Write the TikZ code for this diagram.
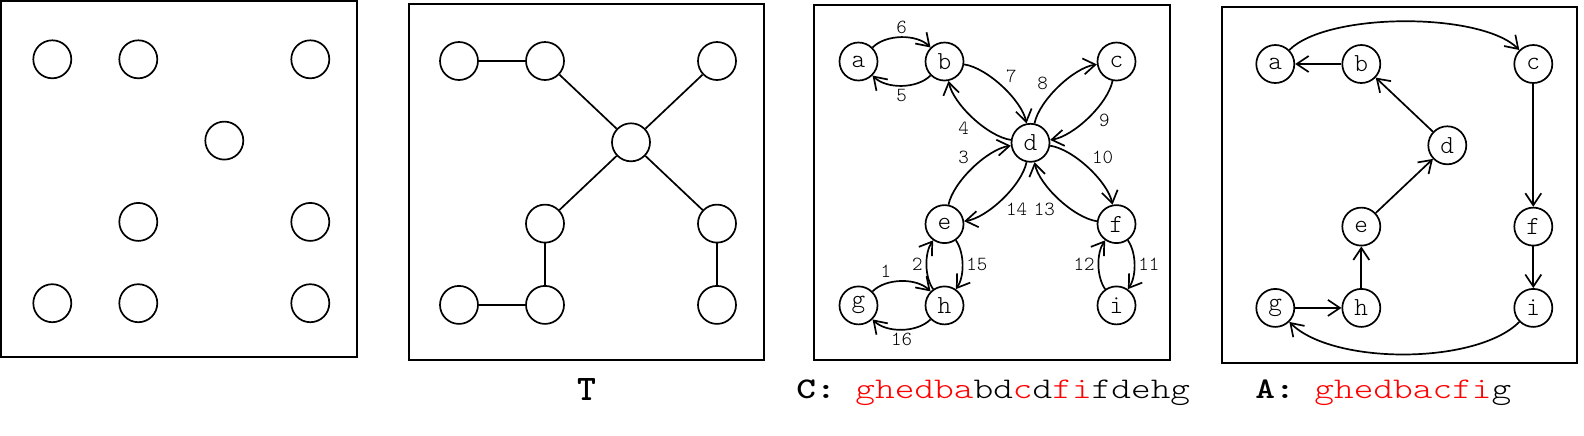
\documentclass[tikz,border=0pt]{standalone}
\usepackage{fontspec}
\newfontfamily\capfont{lmmonolt10-regular}[Extension=.otf, BoldFont=lmmonolt10-bold, FakeStretch=1.25]
\newfontfamily\titlefont{lmmonolt10-bold}[Extension=.otf]
\newfontfamily\lblfont{lmmonolt10-regular}[Extension=.otf]
\usetikzlibrary{arrows.meta}

\begin{document}
\begin{tikzpicture}[x=0.5pt, y=-0.5pt, >={Straight Barb[length=6pt,width=8pt]},
	vtx/.style={draw, circle, line width=0.85pt, minimum size=19pt, inner sep=0pt, font=\lblfont\fontsize{13}{13}\selectfont},
	tedge/.style={line width=0.85pt},
	dedge/.style={line width=0.85pt, ->},
	hbend/.style={bend left=45, looseness=0.85},   % horizontal pairs
	vbend/.style={bend left=35, looseness=0.8},    % vertical pairs
	dbend/.style={bend left=35, looseness=0.7},    % diagonal pairs
	elab/.style={auto, inner sep=1.5pt, font=\lblfont\fontsize{10}{10}\selectfont},
	panel/.style={line width=1pt}]
	
	% page
	\useasboundingbox (0,0) rectangle (1584,435);
	
	% parameters
	\def\dx{86}      % column distance
	\def\dy{81.3}    % row distance
	
	% panel 1: vertices only
	\def\ox{52.3}\def\oy{59.3}
	\draw[panel] (1,1) rectangle (357,357);
	\node[vtx] (ga) at (\ox,\oy) {};
	\node[vtx] (gb) at (\ox+\dx,\oy) {};
	\node[vtx] (gc) at (\ox+3*\dx,\oy) {};
	\node[vtx] (gd) at (\ox+2*\dx,\oy+\dy) {};
	\node[vtx] (ge) at (\ox+\dx,\oy+2*\dy) {};
	\node[vtx] (gf) at (\ox+3*\dx,\oy+2*\dy) {};
	\node[vtx] (gg) at (\ox,\oy+3*\dy) {};
	\node[vtx] (gh) at (\ox+\dx,\oy+3*\dy) {};
	\node[vtx] (gi) at (\ox+3*\dx,\oy+3*\dy) {};
	
	% panel 2: the tree T
	\def\ox{459}\def\oy{61}
	\draw[panel] (409,4) rectangle (764,360);
	\node[vtx] (ta) at (\ox,\oy) {};
	\node[vtx] (tb) at (\ox+\dx,\oy) {};
	\node[vtx] (tc) at (\ox+3*\dx,\oy) {};
	\node[vtx] (td) at (\ox+2*\dx,\oy+\dy) {};
	\node[vtx] (te) at (\ox+\dx,\oy+2*\dy) {};
	\node[vtx] (tf) at (\ox+3*\dx,\oy+2*\dy) {};
	\node[vtx] (tg) at (\ox,\oy+3*\dy) {};
	\node[vtx] (th) at (\ox+\dx,\oy+3*\dy) {};
	\node[vtx] (ti) at (\ox+3*\dx,\oy+3*\dy) {};
	
	\draw[tedge] (ta) -- (tb);
	\draw[tedge] (tb) -- (td);
	\draw[tedge] (tc) -- (td);
	\draw[tedge] (td) -- (te);
	\draw[tedge] (td) -- (tf);
	\draw[tedge] (te) -- (th);
	\draw[tedge] (tg) -- (th);
	\draw[tedge] (tf) -- (ti);
	
	\node[anchor=base, font=\titlefont\fontsize{18}{18}\selectfont] (tcap) at (587,400) {T};
	
	% panel 3: the closed walk C
	\def\ox{858.5}\def\oy{61.5}
	\draw[panel] (814,5) rectangle (1170,360);
	\node[vtx] (ca) at (\ox,\oy) {a};
	\node[vtx] (cb) at (\ox+\dx,\oy) {b};
	\node[vtx] (cc) at (\ox+3*\dx,\oy) {c};
	\node[vtx] (cd) at (\ox+2*\dx,\oy+\dy) {d};
	\node[vtx] (ce) at (\ox+\dx,\oy+2*\dy) {e};
	\node[vtx] (cf) at (\ox+3*\dx,\oy+2*\dy) {f};
	\node[vtx] (cg) at (\ox,\oy+3*\dy) {g};
	\node[vtx] (ch) at (\ox+\dx,\oy+3*\dy) {h};
	\node[vtx] (ci) at (\ox+3*\dx,\oy+3*\dy) {i};
	
	\draw[dedge] (cg) to[hbend] node[elab, pos=0.4] {1} (ch);
	\draw[dedge] (ch) to[vbend] node[elab] {2} (ce);
	\draw[dedge] (ce) to[dbend] node[elab] {3} (cd);
	\draw[dedge] (cd) to[dbend] node[elab] {4} (cb);
	\draw[dedge] (cb) to[hbend] node[elab] {5} (ca);
	\draw[dedge] (ca) to[hbend] node[elab] {6} (cb);
	\draw[dedge] (cb) to[dbend] node[elab] {7} (cd);
	\draw[dedge] (cd) to[dbend] node[elab, pos=0.4] {8} (cc);
	\draw[dedge] (cc) to[dbend] node[elab, pos=0.4] {9} (cd);
	\draw[dedge] (cd) to[dbend] node[elab] {10} (cf);
	\draw[dedge] (cf) to[vbend] node[elab] {11} (ci);
	\draw[dedge] (ci) to[vbend] node[elab] {12} (cf);
	\draw[dedge] (cf) to[dbend] node[elab] {13} (cd);
	\draw[dedge] (cd) to[dbend] node[elab] {14} (ce);
	\draw[dedge] (ce) to[vbend] node[elab] {15} (ch);
	\draw[dedge] (ch) to[hbend] node[elab] {16} (cg);
	
	\node[anchor=base west, inner sep=0pt, font=\capfont\fontsize{15}{15}\selectfont] (ccap) at (796,398)
	{\textbf{C:} \textcolor{red}{ghedba}bd\textcolor{red}{c}d\textcolor{red}{fi}fdehg};
	
	% panel 4: the cycle A
	\def\ox{1275.3}\def\oy{64}
	\draw[panel] (1221.7,6.7) rectangle (1577,362.7);
	\node[vtx] (aa) at (\ox,\oy) {a};
	\node[vtx] (ab) at (\ox+\dx,\oy) {b};
	\node[vtx] (ac) at (\ox+3*\dx,\oy) {c};
	\node[vtx] (ad) at (\ox+2*\dx,\oy+\dy) {d};
	\node[vtx] (ae) at (\ox+\dx,\oy+2*\dy) {e};
	\node[vtx] (af) at (\ox+3*\dx,\oy+2*\dy) {f};
	\node[vtx] (ag) at (\ox,\oy+3*\dy) {g};
	\node[vtx] (ah) at (\ox+\dx,\oy+3*\dy) {h};
	\node[vtx] (ai) at (\ox+3*\dx,\oy+3*\dy) {i};
	
	\draw[dedge] (ag) -- (ah);
	\draw[dedge] (ah) -- (ae);
	\draw[dedge] (ae) -- (ad);
	\draw[dedge] (ad) -- (ab);
	\draw[dedge] (ab) -- (aa);
	\draw[dedge] (aa) to[bend left=45, looseness=0.6] (ac);
	\draw[dedge] (ac) -- (af);
	\draw[dedge] (af) -- (ai);
	\draw[dedge] (ai) to[bend left=45, looseness=0.68] (ag);
	
	\node[anchor=base west, inner sep=0pt, font=\capfont\fontsize{15}{15}\selectfont] (acap) at (1255,398)
	{\textbf{A:} \textcolor{red}{ghedbacfi}g};
\end{tikzpicture}
\end{document}
